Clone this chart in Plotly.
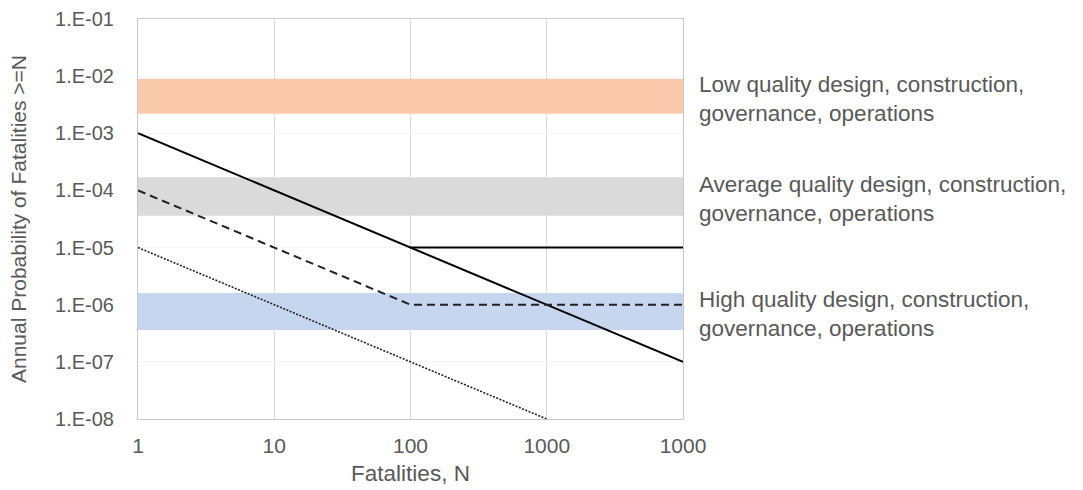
import math
import plotly.graph_objects as go

# ---- data ----
x_tick_vals = [1, 10, 100, 1000, 10000]
x_tick_text = ["1", "10", "100", "1000", "1000"]
y_tick_vals = [1e-1, 1e-2, 1e-3, 1e-4, 1e-5, 1e-6, 1e-7, 1e-8]
y_tick_text = ["1.E-01", "1.E-02", "1.E-03", "1.E-04", "1.E-05", "1.E-06", "1.E-07", "1.E-08"]

band_names = ["Low quality design, construction,<br>governance, operations",
              "Average quality design, construction,<br>governance, operations",
              "High quality design, construction,<br>governance, operations"]
band_low = [2.2e-3, 3.6e-5, 3.6e-7]
band_high = [9.0e-3, 1.7e-4, 1.6e-6]
band_colors = ["#FBCAAC", "#DADADA", "#C6D6EF"]

solid_x = [1, 100, 10000]
solid_y = [1e-3, 1e-5, 1e-7]
solid_flat_x = [100, 10000]
solid_flat_y = [1e-5, 1e-5]
dashed_x = [1, 100, 10000]
dashed_y = [1e-4, 1e-6, 1e-6]
dotted_x = [1, 1000]
dotted_y = [1e-5, 1e-8]

x_min, x_max = 1, 10000

fig = go.Figure()

for lo, hi, col in zip(band_low, band_high, band_colors):
    fig.add_trace(go.Scatter(
        x=[x_min, x_max, x_max, x_min, x_min], y=[lo, lo, hi, hi, lo],
        fill="toself", fillcolor=col, mode="lines", line=dict(width=0, color=col),
        hoverinfo="skip", showlegend=False))

fig.add_trace(go.Scatter(x=solid_x, y=solid_y, mode="lines",
                         line=dict(color="black", width=2), showlegend=False))
fig.add_trace(go.Scatter(x=solid_flat_x, y=solid_flat_y, mode="lines",
                         line=dict(color="black", width=2), showlegend=False))
fig.add_trace(go.Scatter(x=dashed_x, y=dashed_y, mode="lines",
                         line=dict(color="#222222", width=2, dash="8px,5px"), showlegend=False))
fig.add_trace(go.Scatter(x=dotted_x, y=dotted_y, mode="lines",
                         line=dict(color="#222222", width=1.6, dash="2px,1.5px"), showlegend=False))

for name, lo, hi in zip(band_names, band_low, band_high):
    fig.add_annotation(xref="paper", yref="y", x=1.026,
                       y=(math.log10(lo) + math.log10(hi)) / 2 - 0.05,
                       text=name, showarrow=False, xanchor="left", yanchor="middle",
                       align="left", font=dict(size=22.5, color="#595959"))

font = "Liberation Sans, Arial, sans-serif"
fig.update_layout(
    width=1083, height=490,
    margin=dict(l=138, r=400, t=19, b=71),
    paper_bgcolor="white", plot_bgcolor="white",
    font=dict(family=font, size=21, color="#595959"),
)
fig.update_xaxes(type="log", range=[0, 4], tickvals=x_tick_vals, ticktext=x_tick_text,
                 tickfont=dict(size=21, color="#595959"), automargin=False,
                 showgrid=True, gridcolor="#D9D9D9", gridwidth=1,
                 showline=True, linecolor="#C8C8C8", mirror=True,
                 ticks="", ticklabelstandoff=8,
                 title=dict(text="Fatalities, N", font=dict(size=22.5, color="#595959"), standoff=9),
                 zeroline=False)
fig.update_yaxes(type="log", range=[-8, -1], tickvals=y_tick_vals, ticktext=y_tick_text,
                 tickfont=dict(size=20, color="#595959"), automargin=False,
                 showgrid=True, gridcolor="#F4F4F4", gridwidth=1,
                 showline=True, linecolor="#C8C8C8", mirror=True,
                 ticks="", ticklabelstandoff=19,
                 title=dict(text="Annual Probability of Fatalities >=N",
                            font=dict(size=21, color="#595959"), standoff=22),
                 zeroline=False)

fig.write_html("out.html")
